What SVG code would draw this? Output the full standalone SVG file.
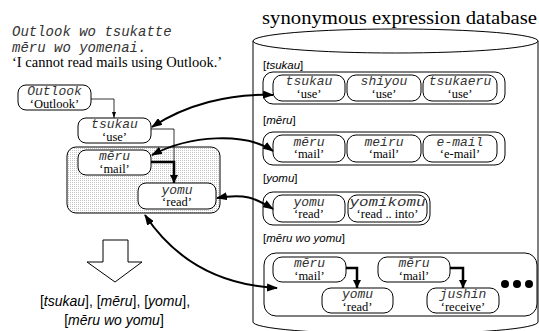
<svg xmlns="http://www.w3.org/2000/svg" width="539" height="331" viewBox="0 0 539 331">
<style>
.mono{font-family:"Liberation Mono",monospace;font-style:italic;font-size:13px;fill:#333;text-anchor:middle}
.gl{font-family:"Liberation Serif",serif;font-size:12.5px;fill:#000;text-anchor:middle}
.lab{font-family:"Liberation Sans",sans-serif;font-size:11.5px;fill:#000}
.it{font-style:italic}
.node{fill:#fff;stroke:#000;stroke-width:1}
.grp{fill:none;stroke:#000;stroke-width:1}
.thin{fill:none;stroke:#000;stroke-width:0.8}
.bold{fill:none;stroke:#000;stroke-width:2.5}
.curve{fill:none;stroke:#000;stroke-width:2}
</style>
<defs>
<pattern id="dots" width="2" height="2" patternUnits="userSpaceOnUse">
<rect width="2" height="2" fill="#fff"/>
<rect x="0" y="0" width="1" height="1" fill="#c4c4c4"/>
</pattern>
<marker id="as" viewBox="0 0 6 4" refX="6" refY="2" markerWidth="6" markerHeight="4" markerUnits="userSpaceOnUse" orient="auto"><path d="M0,0 L6,2 L0,4 z" fill="#000"/></marker>
<marker id="ab" viewBox="0 0 8 8" refX="8" refY="4" markerWidth="8" markerHeight="8" markerUnits="userSpaceOnUse" orient="auto"><path d="M0,0 L8,4 L0,8 z" fill="#000"/></marker>
<marker id="ac" viewBox="0 0 11 8" refX="10" refY="4" markerWidth="11" markerHeight="8" markerUnits="userSpaceOnUse" orient="auto-start-reverse"><path d="M0,0 L11,4 L0,8 z" fill="#000"/></marker>
</defs>
<rect width="539" height="331" fill="#fff"/>

<g id="sentence">
<text x="12" y="36" font-family="Liberation Mono, monospace" font-style="italic" font-size="14" fill="#333">Outlook wo tsukatte</text>
<text x="12" y="52" font-family="Liberation Mono, monospace" font-style="italic" font-size="14" fill="#333">mēru wo yomenai.</text>
<text x="12" y="67" font-family="Liberation Serif, serif" font-size="14.5">‘I cannot read mails using Outlook.’</text>
</g>

<g id="database">
<text x="262" y="24" font-family="Liberation Serif, serif" font-size="19" textLength="275" lengthAdjust="spacingAndGlyphs">synonymous expression database</text>
<path d="M253,41 V322 A142.5,12 0 0 0 538,322 V41" fill="#fff" stroke="#000" stroke-width="1"/>
<ellipse cx="395.5" cy="41" rx="142.5" ry="12" fill="#fff" stroke="#000" stroke-width="1"/>
</g>

<g id="n-outlook">
<rect class="node" x="18" y="85" width="73" height="25" rx="8"/>
<text class="mono" x="54.5" y="95">Outlook</text>
<text class="gl" x="54.5" y="107.5">‘Outlook’</text>
</g>
<g id="n-tsukau">
<rect class="node" x="78" y="118" width="73" height="25" rx="8"/>
<text class="mono" x="114.5" y="128">tsukau</text>
<text class="gl" x="114.5" y="140.5">‘use’</text>
</g>
<g id="g-meru-yomu">
<rect x="67" y="147" width="153" height="66" rx="9" fill="url(#dots)" stroke="#000" stroke-width="1"/>
</g>
<g id="n-meru">
<rect class="node" x="78" y="150" width="73" height="25" rx="8"/>
<text class="mono" x="114.5" y="160">mēru</text>
<text class="gl" x="114.5" y="172.5">‘mail’</text>
</g>
<g id="n-yomu">
<rect class="node" x="138" y="183" width="78" height="26" rx="8"/>
<text class="mono" x="177" y="193.5">yomu</text>
<text class="gl" x="177" y="206">‘read’</text>
</g>

<g id="result">
<polygon points="103,240 128,240 128,262 142,262 115,282 87,262 103,262" fill="#fff" stroke="#000" stroke-width="1"/>
<text x="115" y="306" font-family="Liberation Sans, sans-serif" font-size="14" text-anchor="middle">[<tspan class="it">tsukau</tspan>], [<tspan class="it">mēru</tspan>], [<tspan class="it">yomu</tspan>],</text>
<text x="114" y="325" font-family="Liberation Sans, sans-serif" font-size="14" text-anchor="middle">[<tspan class="it">mēru wo yomu</tspan>]</text>
</g>

<g id="db-tsukau">
<text class="lab" x="263" y="69">[<tspan class="it">tsukau</tspan>]</text>
<rect class="grp" x="263" y="72" width="242" height="32" rx="10"/>
<rect class="node" x="273" y="75" width="72" height="26" rx="9"/>
<text class="mono" x="309" y="85">tsukau</text>
<text class="gl" x="309" y="97.5">‘use’</text>
<rect class="node" x="347" y="75" width="74" height="26" rx="9"/>
<text class="mono" x="384" y="85">shiyou</text>
<text class="gl" x="384" y="97.5">‘use’</text>
<rect class="node" x="423" y="75" width="74" height="26" rx="9"/>
<text class="mono" x="460" y="85">tsukaeru</text>
<text class="gl" x="460" y="97.5">‘use’</text>
</g>
<g id="db-meru">
<text class="lab" x="263" y="124">[<tspan class="it">mēru</tspan>]</text>
<rect class="grp" x="263" y="132" width="242" height="33" rx="10"/>
<rect class="node" x="273" y="135" width="72" height="27" rx="9"/>
<text class="mono" x="309" y="145.5">mēru</text>
<text class="gl" x="309" y="158">‘mail’</text>
<rect class="node" x="347" y="135" width="74" height="27" rx="9"/>
<text class="mono" x="384" y="145.5">meiru</text>
<text class="gl" x="384" y="158">‘mail’</text>
<rect class="node" x="423" y="135" width="74" height="27" rx="9"/>
<text class="mono" x="460" y="145.5">e-mail</text>
<text class="gl" x="460" y="158">‘e-mail’</text>
</g>
<g id="db-yomu">
<text class="lab" x="263" y="182">[<tspan class="it">yomu</tspan>]</text>
<rect class="grp" x="263" y="192" width="167" height="33" rx="10"/>
<rect class="node" x="273" y="195" width="72" height="27" rx="9"/>
<text class="mono" x="309" y="205.5">yomu</text>
<text class="gl" x="309" y="218">‘read’</text>
<rect class="node" x="348" y="195" width="79" height="27" rx="9"/>
<text class="mono" x="387.5" y="205.5" textLength="76" lengthAdjust="spacingAndGlyphs">yomikomu</text>
<text class="gl" x="387.5" y="218">‘read .. into’</text>
</g>
<g id="db-meru-wo-yomu">
<text class="lab" x="263" y="242">[<tspan class="it">mēru wo yomu</tspan>]</text>
<rect class="grp" x="264" y="253" width="273" height="63" rx="12"/>
<rect class="node" x="273" y="257" width="73" height="25" rx="9"/>
<text class="mono" x="309.5" y="267">mēru</text>
<text class="gl" x="309.5" y="279.5">‘mail’</text>
<rect class="node" x="378" y="257" width="72" height="25" rx="9"/>
<text class="mono" x="414" y="267">mēru</text>
<text class="gl" x="414" y="279.5">‘mail’</text>
<rect class="node" x="322" y="288" width="71" height="25" rx="9"/>
<text class="mono" x="357.5" y="298">yomu</text>
<text class="gl" x="357.5" y="310.5">‘read’</text>
<rect class="node" x="427" y="288" width="72" height="25" rx="9"/>
<text class="mono" x="463" y="298">jushin</text>
<text class="gl" x="463" y="310.5">‘receive’</text>
<circle cx="505" cy="284" r="4"/>
<circle cx="517" cy="284" r="4"/>
<circle cx="529" cy="284" r="4"/>
</g>

<g id="connectors">
<path class="thin" d="M91,99 H114 V118" marker-end="url(#as)"/>
<path class="thin" d="M151,129 H174 V183" marker-end="url(#as)"/>
<path class="bold" d="M151,162 H174 V183" marker-end="url(#ab)"/>
<path class="bold" d="M346,268 H357 V288" marker-end="url(#ab)"/>
<path class="bold" d="M450,268 H463 V288" marker-end="url(#ab)"/>
<path class="curve" d="M152,127 C185,105 230,93 273,95" marker-start="url(#ac)" marker-end="url(#ac)"/>
<path class="curve" d="M152,155 C190,135 245,132 273,151" marker-start="url(#ac)" marker-end="url(#ac)"/>
<path class="curve" d="M217,198 C245,193 255,198 273,209" marker-start="url(#ac)" marker-end="url(#ac)"/>
<path class="curve" d="M145,215 C175,260 220,285 277,288" marker-start="url(#ac)" marker-end="url(#ac)"/>
</g>
</svg>
